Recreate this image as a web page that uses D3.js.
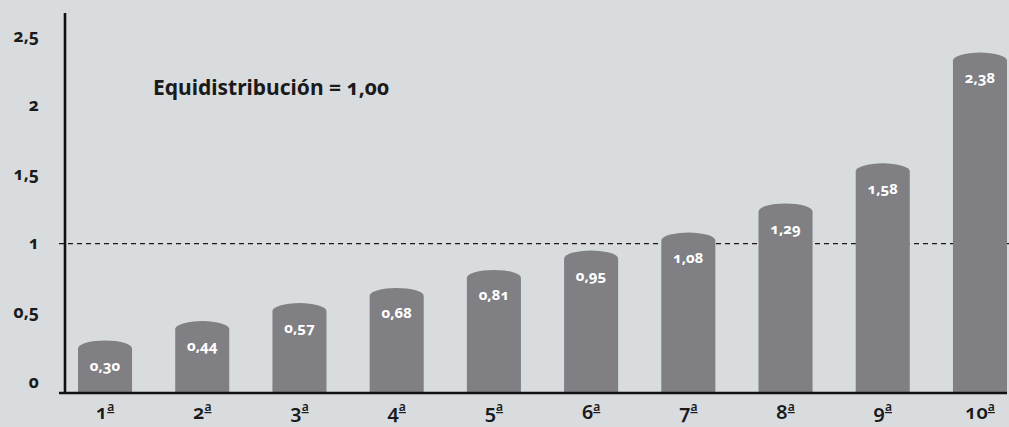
<!DOCTYPE html>
<html>
<head>
<meta charset="utf-8">
<script src="https://cdn.jsdelivr.net/npm/d3@7"></script>
<style>
  html, body { margin: 0; padding: 0; background: #d9dcdf; }
  svg { display: block; font-family: "Noto Sans", "Open Sans", sans-serif; font-feature-settings: "onum" 1; font-variant-numeric: oldstyle-nums; }
</style>
</head>
<body>
<svg id="chart" width="1009" height="427"></svg>
<script>
// Decile numbers and ratio per decile
const categories = ["1", "2", "3", "4", "5", "6", "7", "8", "9", "10"];
const ordinalMark = "a";
const values = [0.30, 0.44, 0.57, 0.68, 0.81, 0.95, 1.08, 1.29, 1.58, 2.38];
const yTicks = [0, 0.5, 1, 1.5, 2, 2.5];
const equalShare = 1.00;
const titleText = "Equidistribución = ";

const W = 1009, H = 427;
const svg = d3.select("#chart");

const locale = d3.formatLocale({ decimal: ",", thousands: ".", grouping: [3], currency: ["", " €"] });
const fmtVal = locale.format(".2f");
const fmtTick = locale.format(".1~f");

const x = d3.scaleBand().domain(categories).range([78, 1007]).paddingInner(0.444).paddingOuter(0);
const y = d3.scaleLinear().domain([0, 2.5]).range([382, 36]);
const axisY = 393;   // baseline where the bars stand
const axisX = 65;

// reference line at equal distribution
svg.append("line")
  .attr("x1", 59).attr("x2", W)
  .attr("y1", y(equalShare)).attr("y2", y(equalShare))
  .attr("stroke", "#1a1a1a").attr("stroke-width", 1.3)
  .attr("stroke-dasharray", "5,4");

// bars with a domed top
const ry = 8;
svg.append("g").selectAll("path").data(values).join("path")
  .attr("fill", "#807f84")
  .attr("d", (d, i) => {
    const x0 = x(categories[i]), w = x.bandwidth();
    const top = y(d);
    return `M${x0},${axisY} L${x0},${top + ry} A${w / 2},${ry} 0 0 1 ${x0 + w},${top + ry} L${x0 + w},${axisY} Z`;
  });

// value labels inside the bars
svg.append("g").selectAll("text").data(values).join("text")
  .attr("x", (d, i) => x(categories[i]) + x.bandwidth() / 2)
  .attr("y", d => y(d) + 25)
  .attr("dy", "0.35em")
  .attr("text-anchor", "middle")
  .attr("fill", "#ffffff")
  .attr("font-size", 15)
  .attr("font-weight", 700)
  .text(d => fmtVal(d));

// y axis
const gy = svg.append("g").attr("transform", `translate(${axisX},0)`);
gy.append("line").attr("x1", 0).attr("x2", 0).attr("y1", 13).attr("y2", axisY + 1)
  .attr("stroke", "#111").attr("stroke-width", 2.6);
gy.selectAll("text").data(yTicks).join("text")
  .attr("x", -26).attr("y", d => y(d))
  .attr("dy", "0.32em")
  .attr("text-anchor", "end")
  .attr("fill", "#1a1a1a")
  .attr("font-size", 17.5)
  .attr("font-weight", 700)
  .text(d => fmtTick(d));

// x axis
svg.append("line").attr("x1", 59).attr("x2", 1007).attr("y1", axisY).attr("y2", axisY)
  .attr("stroke", "#111").attr("stroke-width", 2.6);
const xl = svg.append("g").selectAll("text").data(categories).join("text")
  .attr("x", d => x(d) + x.bandwidth() / 2)
  .attr("y", 419)
  .attr("text-anchor", "middle")
  .attr("fill", "#1a1a1a")
  .attr("font-size", 20)
  .attr("font-weight", 600);
xl.append("tspan").text(d => d);
xl.append("tspan")
  .attr("font-size", 12)
  .attr("dy", -8)
  .attr("text-decoration", "underline")
  .text(ordinalMark);

// annotation
svg.append("text")
  .attr("x", 153).attr("y", 95)
  .attr("fill", "#1a1a1a")
  .attr("font-size", 21)
  .attr("font-weight", 700)
  .text(titleText + fmtVal(equalShare));
</script>
</body>
</html>
